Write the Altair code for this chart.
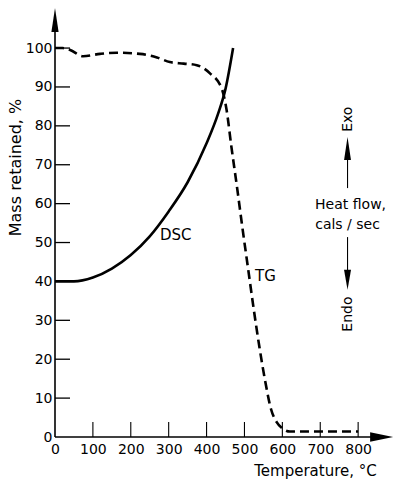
import altair as alt
import pandas as pd

# DSC trace (heat flow, plotted on the mass scale)
dsc_temp = [0, 50, 100, 150, 200, 250, 300, 350, 400, 430, 450, 470]
dsc_val = [40, 40, 41, 43.3, 46.8, 51.6, 58, 65.5, 75.5, 83, 89.5, 100]

# TG trace: mass retained, %
tg_temp = [0, 20, 40, 74, 119, 163, 224, 269, 303, 340, 374, 409, 440, 453,
           465, 480, 495, 510, 525, 540, 555, 570, 585, 600, 620, 700, 800]
tg_mass = [100, 100, 99.5, 97.9, 98.5, 98.8, 98.5, 97.6, 96.4, 96.0, 95.6, 93.5,
           89.6, 84, 75, 64.5, 53.5, 43, 32.5, 22.8, 14.2, 7.2, 3.8, 2.2,
           1.4, 1.4, 1.4]

x_ticks = [0, 100, 200, 300, 400, 500, 600, 700, 800]
y_ticks = [0, 10, 20, 30, 40, 50, 60, 70, 80, 90, 100]

# curve labels
curve_labels = ["DSC", "TG"]
curve_label_x = [277, 528]
curve_label_y = [52, 41.4]

# heat-flow annotation on the right
hf_lines = ["Heat flow,", "cals / sec"]
hf_x = [780, 772]
hf_y = [59.6, 54.5]
rot_labels = ["Exo", "Endo"]
rot_x = [772, 772]
rot_y = [81.7, 31.6]

FONT = "DejaVu Sans"
W, H = 338, 429
xs = alt.Scale(domain=[0, 892], nice=False, zero=False)
ys = alt.Scale(domain=[0, 110.3], nice=False, zero=False)

x_axis = alt.Axis(
    values=x_ticks, ticks=False, domain=False, grid=False, labelFont=FONT,
    labelFontSize=14, labelColor="black", labelPadding=5, labelFlush=False,
    title="Temperature, °C", titleFont=FONT, titleFontSize=15,
    titleFontWeight="normal", titleColor="black", titleX=260, titleY=33,
    titleAlign="center", titleBaseline="middle")
y_axis = alt.Axis(
    values=y_ticks, ticks=False, domain=False, grid=False, labelFont=FONT,
    labelFontSize=14, labelColor="black", labelPadding=3, labelFlush=False,
    title="Mass retained, %", titleFont=FONT, titleFontSize=16,
    titleFontWeight="normal", titleColor="black", titleX=-40, titleY=159,
    titleAlign="center", titleBaseline="middle", titleAngle=270)

X = alt.X("t:Q", scale=xs, axis=x_axis)
Y = alt.Y("v:Q", scale=ys, axis=y_axis)

dsc_df = pd.DataFrame({"t": dsc_temp, "v": dsc_val})
tg_df = pd.DataFrame({"t": tg_temp, "v": tg_mass})

dsc = alt.Chart(dsc_df).mark_line(color="black", strokeWidth=2.6,
                                  interpolate="monotone").encode(x=X, y=Y)

tg = alt.Chart(tg_df).mark_line(color="black", strokeWidth=2.6, strokeDash=[9, 5],
                                interpolate="monotone").encode(x=X, y=Y)

# axis lines
one = pd.DataFrame({"a": [0]})
y_axis_line = alt.Chart(one).mark_rule(color="black", strokeWidth=1.6).encode(
    x=alt.value(0), y=alt.value(H), y2=alt.value(20))
x_axis_line = alt.Chart(one).mark_rule(color="black", strokeWidth=1.6).encode(
    x=alt.value(0), x2=alt.value(318), y=alt.value(H))

# inward tick marks
ytick = alt.Chart(pd.DataFrame({"v": y_ticks[1:]})).mark_rule(
    color="black", strokeWidth=1.3).encode(y=Y, x=alt.value(0), x2=alt.value(15))
xtick = alt.Chart(pd.DataFrame({"t": x_ticks[1:]})).mark_rule(
    color="black", strokeWidth=1.1).encode(x=X, y=alt.value(H), y2=alt.value(H - 15))

# arrowheads
UP = "M0,-1L0.3,1L-0.3,1Z"
DOWN = "M0,1L0.35,-1L-0.35,-1Z"
RIGHT = "M1,0L-1,0.42L-1,-0.42Z"

def head(xv, yv, shape, size):
    return alt.Chart(pd.DataFrame({"t": [xv], "v": [yv]})).mark_point(
        shape=shape, filled=True, color="black", opacity=1, size=size, strokeWidth=0
    ).encode(x=X, y=Y)

y_head = head(0, 107.2, UP, 576)
x_head = head(862, 0, RIGHT, 529)
exo_head = head(772, 74.2, UP, 529)
endo_head = head(772, 40.4, DOWN, 400)

def shaft(xv, y1, y2):
    return alt.Chart(pd.DataFrame({"t": [xv], "v": [y1], "v2": [y2]})).mark_rule(
        color="black", strokeWidth=1.1).encode(x=X, y=Y, y2="v2:Q")

exo_shaft = shaft(772, 64, 72)
endo_shaft = shaft(772, 42.9, 51.4)

# text annotations
lbl = alt.Chart(pd.DataFrame({"t": curve_label_x, "v": curve_label_y, "s": curve_labels})).mark_text(
    font=FONT, fontSize=15, align="left", baseline="middle", color="black").encode(
    x=X, y=Y, text="s:N")

hf = alt.Chart(pd.DataFrame({"t": hf_x, "v": hf_y, "s": hf_lines})).mark_text(
    font=FONT, fontSize=14, align="center", baseline="middle", color="black").encode(
    x=X, y=Y, text="s:N")

rot = alt.Chart(pd.DataFrame({"t": rot_x, "v": rot_y, "s": rot_labels})).mark_text(
    font=FONT, fontSize=14, align="center", baseline="middle", angle=270, color="black").encode(
    x=X, y=Y, text="s:N")

chart = alt.layer(
    dsc, tg, y_axis_line, x_axis_line, ytick, xtick,
    y_head, x_head, exo_head, endo_head, exo_shaft, endo_shaft,
    lbl, hf, rot,
).properties(
    width=W, height=H,
    autosize=alt.AutoSizeParams(type="none"),
    padding={"left": 55, "top": 8, "right": 1, "bottom": 43},
    background="white",
).configure_view(stroke=None)

chart.save("out.html", embed_options={"renderer": "svg", "actions": False})
